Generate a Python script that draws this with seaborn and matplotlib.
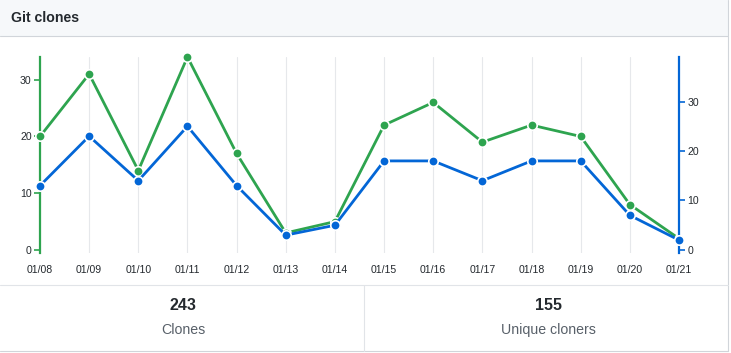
import numpy as np
import matplotlib
matplotlib.use("Agg")
import matplotlib.pyplot as plt
import pandas as pd
import seaborn as sns
from matplotlib.lines import Line2D
from matplotlib.patches import Rectangle

# data
dates = ["01/08", "01/09", "01/10", "01/11", "01/12", "01/13", "01/14",
         "01/15", "01/16", "01/17", "01/18", "01/19", "01/20", "01/21"]
clones = [20, 31, 14, 34, 17, 3, 5, 22, 26, 19, 22, 20, 8, 2]
uniques = [13, 23, 14, 25, 13, 3, 5, 18, 18, 14, 18, 18, 7, 2]
total_clones = "243"
total_uniques = "155"

green = "#2ea44f"
blue = "#0366d6"
dark = "#24292e"
gray = "#586069"
border = "#d1d5da"

sns.set_style("white")
plt.rcParams["font.family"] = ["Liberation Sans", "DejaVu Sans"]

W, H = 731, 353
fig = plt.figure(figsize=(W / 100, H / 100), dpi=100)


def fx(px):
    return px / W


def fy(py):
    return 1 - py / H


# header
fig.patches.append(Rectangle((0, fy(36)), fx(728), 36 / H, transform=fig.transFigure,
                             facecolor="#f6f8fa", edgecolor="none", zorder=0))
fig.lines.append(Line2D([0, fx(728)], [fy(36), fy(36)], transform=fig.transFigure, color=border, lw=0.8))
fig.text(fx(11), fy(18), "Git clones", fontsize=10.2, fontweight="bold", color=dark, va="center", ha="left")

# outer border, footer separators
fig.lines.append(Line2D([fx(728), fx(728)], [fy(0), fy(351)], transform=fig.transFigure, color=border, lw=0.8))
fig.lines.append(Line2D([0, fx(728)], [fy(351), fy(351)], transform=fig.transFigure, color=border, lw=0.8))
fig.lines.append(Line2D([0, fx(728)], [fy(285), fy(285)], transform=fig.transFigure, color="#e1e4e8", lw=0.8))
fig.lines.append(Line2D([fx(364), fx(364)], [fy(285), fy(351)], transform=fig.transFigure, color="#e1e4e8", lw=0.8))

# footer stats
fig.text(fx(183), fy(306), total_clones, fontsize=11.5, fontweight="bold", color=dark, ha="center", va="center")
fig.text(fx(183), fy(330), "Clones", fontsize=10.2, color=gray, ha="center", va="center")
fig.text(fx(548), fy(306), total_uniques, fontsize=11.5, fontweight="bold", color=dark, ha="center", va="center")
fig.text(fx(548), fy(330), "Unique cloners", fontsize=10.2, color=gray, ha="center", va="center")

# chart
df = pd.DataFrame({"pos": np.arange(len(dates)), "clones": clones, "uniques": uniques})

ax = fig.add_axes([fx(40), fy(252.8), fx(679) - fx(40), (252.8 - 57) / H])
ax.set_facecolor("none")
ax2 = ax.twinx()

sns.lineplot(data=df, x="pos", y="clones", ax=ax, color=green, lw=2, marker="o",
             markersize=6.8, markeredgecolor="white", markeredgewidth=1.2, zorder=3)
sns.lineplot(data=df, x="pos", y="uniques", ax=ax2, color=blue, lw=2, marker="o",
             markersize=6.8, markeredgecolor="white", markeredgewidth=1.2, zorder=3)
for l in ax.lines + ax2.lines:
    l.set_clip_on(False)

ax.set_xlim(0, len(dates) - 1)
ax.set_ylim(-0.5, 34)
ax2.set_ylim(-0.57, 39)

ax.set_xticks(df["pos"])
ax.set_xticklabels(dates)
ax.set_yticks([0, 10, 20, 30])
ax2.set_yticks([0, 10, 20, 30])
ax.set_xlabel("")
ax.set_ylabel("")
ax2.set_ylabel("")

ax.grid(axis="x", color="#e6e8eb", lw=0.8)
ax.grid(axis="y", visible=False)
ax2.grid(False)
ax.set_axisbelow(True)

for a in (ax, ax2):
    for s in ("top", "bottom"):
        a.spines[s].set_visible(False)
ax.spines["right"].set_visible(False)
ax2.spines["left"].set_visible(False)
ax.spines["left"].set_color(green)
ax.spines["left"].set_linewidth(1.6)
ax2.spines["right"].set_color(blue)
ax2.spines["right"].set_linewidth(1.6)

ax.tick_params(axis="x", length=0, pad=9, labelsize=7.6, labelcolor=dark)
ax.tick_params(axis="y", length=4, width=1.2, color=green, pad=2, labelsize=7.6, labelcolor=dark)
ax2.tick_params(axis="y", length=4, width=1.2, color=blue, pad=2, labelsize=7.6, labelcolor=dark)
ax2.yaxis.get_major_ticks()[0].tick2line.set_color(green)

fig.savefig("out.png", dpi=100)
